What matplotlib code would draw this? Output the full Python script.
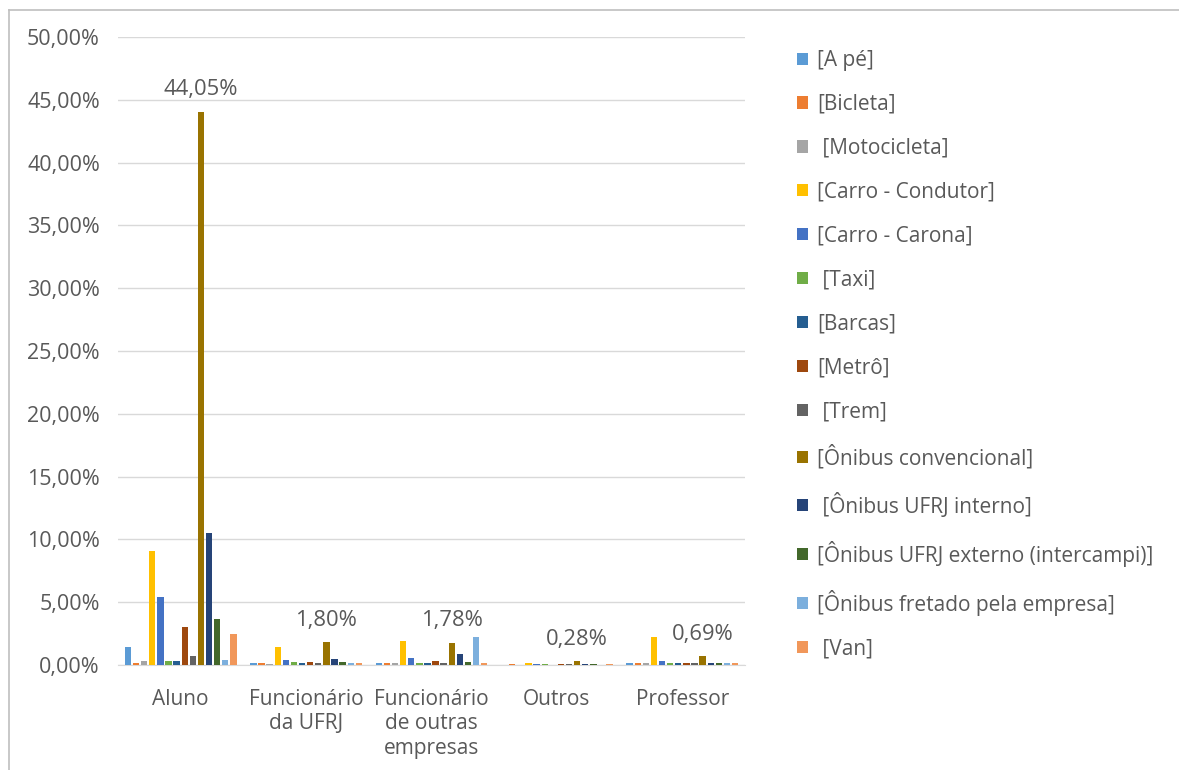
import matplotlib
matplotlib.use("Agg")
import matplotlib.pyplot as plt
import numpy as np
from matplotlib.lines import Line2D
from matplotlib.patches import Patch

categories = ["Aluno", "Funcionário\nda UFRJ", "Funcionário\nde outras\nempresas", "Outros", "Professor"]
series_names = ["[A pé]", "[Bicleta]", " [Motocicleta]", "[Carro - Condutor]", "[Carro - Carona]",
                " [Taxi]", "[Barcas]", "[Metrô]", " [Trem]", "[Ônibus convencional]",
                " [Ônibus UFRJ interno]", "[Ônibus UFRJ externo (intercampi)]",
                "[Ônibus fretado pela empresa]", " [Van]"]
colors = ["#5B9BD5", "#ED7D31", "#A5A5A5", "#FFC000", "#4472C4", "#70AD47", "#255E91",
          "#9E480E", "#636363", "#997300", "#264478", "#43682B", "#7CAFDD", "#F1975A"]

# values in % per series, for [Aluno, Func UFRJ, Func outras, Outros, Professor]
a_pe        = [1.46, 0.15, 0.15, 0.00, 0.15]
bicleta     = [0.19, 0.15, 0.15, 0.10, 0.15]
motocicleta = [0.32, 0.10, 0.15, 0.00, 0.15]
condutor    = [9.10, 1.46, 1.94, 0.14, 2.20]
carona      = [5.44, 0.40, 0.53, 0.10, 0.32]
taxi        = [0.32, 0.20, 0.15, 0.10, 0.15]
barcas      = [0.32, 0.15, 0.15, 0.00, 0.15]
metro       = [3.05, 0.20, 0.35, 0.10, 0.15]
trem        = [0.74, 0.15, 0.15, 0.10, 0.15]
convencional= [44.05, 1.80, 1.78, 0.28, 0.69]
interno     = [10.53, 0.45, 0.85, 0.10, 0.15]
externo     = [3.69, 0.25, 0.22, 0.10, 0.15]
fretado     = [0.40, 0.12, 2.25, 0.00, 0.15]
van         = [2.47, 0.15, 0.12, 0.10, 0.15]
series_values = [a_pe, bicleta, motocicleta, condutor, carona, taxi, barcas, metro, trem,
                 convencional, interno, externo, fretado, van]
yticks = [0, 5, 10, 15, 20, 25, 30, 35, 40, 45, 50]
ytick_labels = ["0,00%", "5,00%", "10,00%", "15,00%", "20,00%", "25,00%", "30,00%",
                "35,00%", "40,00%", "45,00%", "50,00%"]

plt.rcParams['font.family'] = ['Open Sans', 'DejaVu Sans']
txt = "#595959"
fs = 15

fig = plt.figure(figsize=(11.79, 7.70), dpi=100)
ax = fig.add_axes([118/1179, 105/770, (745-118)/1179, (665-37)/770])

n = len(series_names)
x = np.arange(len(categories))
group_w = 0.905
bw = group_w / n
for i, (vals, c) in enumerate(zip(series_values, colors)):
    pos = x - group_w/2 + bw*(i+0.5)
    ax.bar(pos, vals, width=bw*0.78, color=c, zorder=3)
    if i == 9:
        for xp, v in zip(pos, vals):
            ax.text(xp, v + 0.9, f"{v:.2f}%".replace(".", ","), ha="center", va="bottom",
                    fontsize=fs + 0.8, color=txt)

ax.set_xlim(-0.5, len(categories)-0.5)
ax.set_ylim(0, 50)
ax.set_yticks(yticks)
ax.set_yticklabels(ytick_labels, fontsize=fs + 0.5, color=txt)
ax.set_xticks(x)
ax.set_xticklabels(categories, fontsize=fs, color=txt, linespacing=1.22, va="top")
ax.tick_params(axis="both", length=0)
ax.tick_params(axis="y", pad=13)
ax.tick_params(axis="x", pad=17)
ax.grid(axis="y", color="#D9D9D9", linewidth=1, zorder=0)
for s in ["top", "right", "left"]:
    ax.spines[s].set_visible(False)
ax.spines["bottom"].set_color("#D9D9D9")

handles = [Patch(facecolor=c, edgecolor="none") for c in colors]
leg = fig.legend(handles, series_names, loc="upper left", bbox_to_anchor=(797/1179, 1-50/770),
                 frameon=False, fontsize=fs, handlelength=0.52, handleheight=0.52,
                 handletextpad=0.45, labelspacing=1.1, labelcolor=txt,
                 borderaxespad=0, borderpad=0)

# outer chart border
fig.add_artist(Line2D([9/1179, 9/1179], [0, 1-10/770], color="#BFBFBF", lw=1.2, transform=fig.transFigure))
fig.add_artist(Line2D([9/1179, 1], [1-10/770, 1-10/770], color="#BFBFBF", lw=1.2, transform=fig.transFigure))

fig.savefig("out.png", dpi=100)
